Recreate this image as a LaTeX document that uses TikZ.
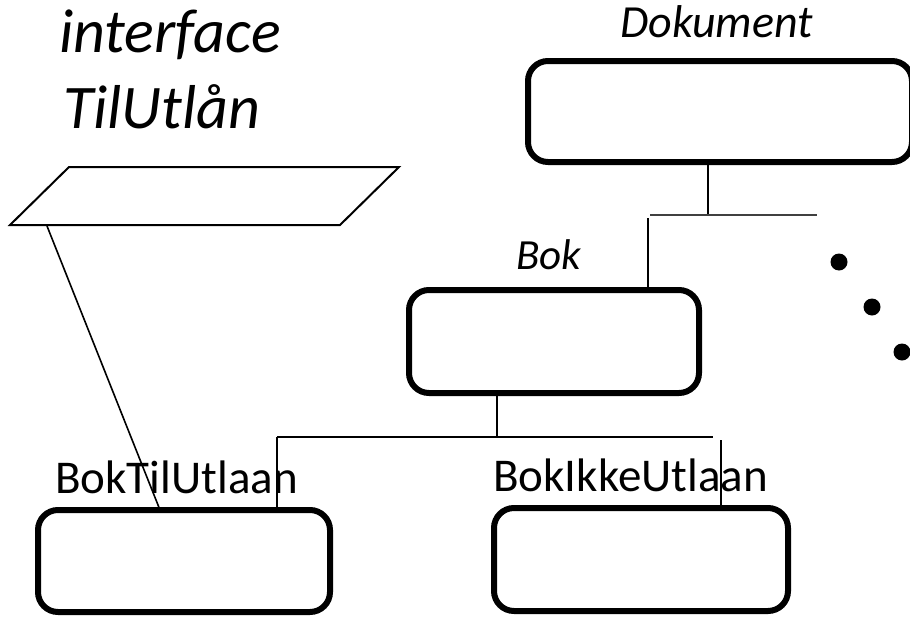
\documentclass[tikz,border=0pt]{standalone}
\usepackage{fontspec}
\setmainfont{Carlito}
\begin{document}
\begin{tikzpicture}[x=1pt,y=-1pt,
  classbox/.style={draw=black, line width=6pt, rounded corners=20pt,
    rectangle, inner sep=0pt, outer sep=0pt},
  title/.style={inner sep=0pt, anchor=base west, font=\fontsize{62}{62}\itshape\selectfont},
  classname/.style={inner sep=0pt, anchor=base west, font=\fontsize{46}{46}\itshape\selectfont},
  smallname/.style={inner sep=0pt, anchor=base west, font=\fontsize{43}{43}\itshape\selectfont},
  subname/.style={inner sep=0pt, anchor=base west, font=\fontsize{47}{47}\selectfont},
  link/.style={draw=black, line width=1.6pt},
  buslink/.style={draw=black!75, line width=1.4pt},
  dot/.style={fill=black}]
\useasboundingbox (0,0) rectangle (910,616);
\clip (0,0) rectangle (910,616);

% interface symbol with its name
\node[title] (ifname1) at (59,52) {interface};
\node[title] (ifname2) at (63,128) {TilUtlån};
\draw[line width=2pt, line join=miter] (69,167) -- (399,167) -- (340,225) -- (10,225) -- cycle;
\coordinate (ifc) at (47,226);

% class boxes
\node[classbox, minimum width=384pt, minimum height=101pt] (dok) at (720,111.5) {};
\node[classbox, minimum width=290pt, minimum height=103pt] (bok) at (554,341.5) {};
\node[classbox, minimum width=292pt, minimum height=102pt] (btu) at (184,561) {};
\node[classbox, minimum width=294pt, minimum height=103pt] (biu) at (641,559.5) {};

% class names
\node[classname] (dokname) at (620,37) {Dokument};
\node[smallname] (bokname) at (516,269) {Bok};
\node[subname] (btuname) at (55,493) {BokTilUtlaan};
\node[subname] (biuname) at (493,491) {BokIkkeUtlaan};

% inheritance from Dokument
\coordinate (dbus) at (708,215);
\draw[link] (dok.south -| dbus) -- (dbus);
\draw[buslink] (650,215) coordinate (dbusl) -- (817,215) coordinate (dbusr);
\draw[link] (648,218) -- (bok.north -| 648,0);

% inheritance from Bok
\coordinate (bbus) at (497,437);
\draw[link] (bok.south -| bbus) -- (bbus);
\draw[link] (277,437) coordinate (bbusl) -- (713,437) coordinate (bbusr);
\draw[link] (bbusl) -- (btu.north -| bbusl);
\draw[link] (721,440) -- (biu.north -| 721,0);

% realisation of the interface
\draw[line width=1.6pt] (ifc) -- (btu.north -| 160,0);

% more subclasses
\fill[dot] (839,262) circle (8.5);
\fill[dot] (872,307) circle (8.5);
\fill[dot] (902,352) circle (8.5);
\end{tikzpicture}
\end{document}
